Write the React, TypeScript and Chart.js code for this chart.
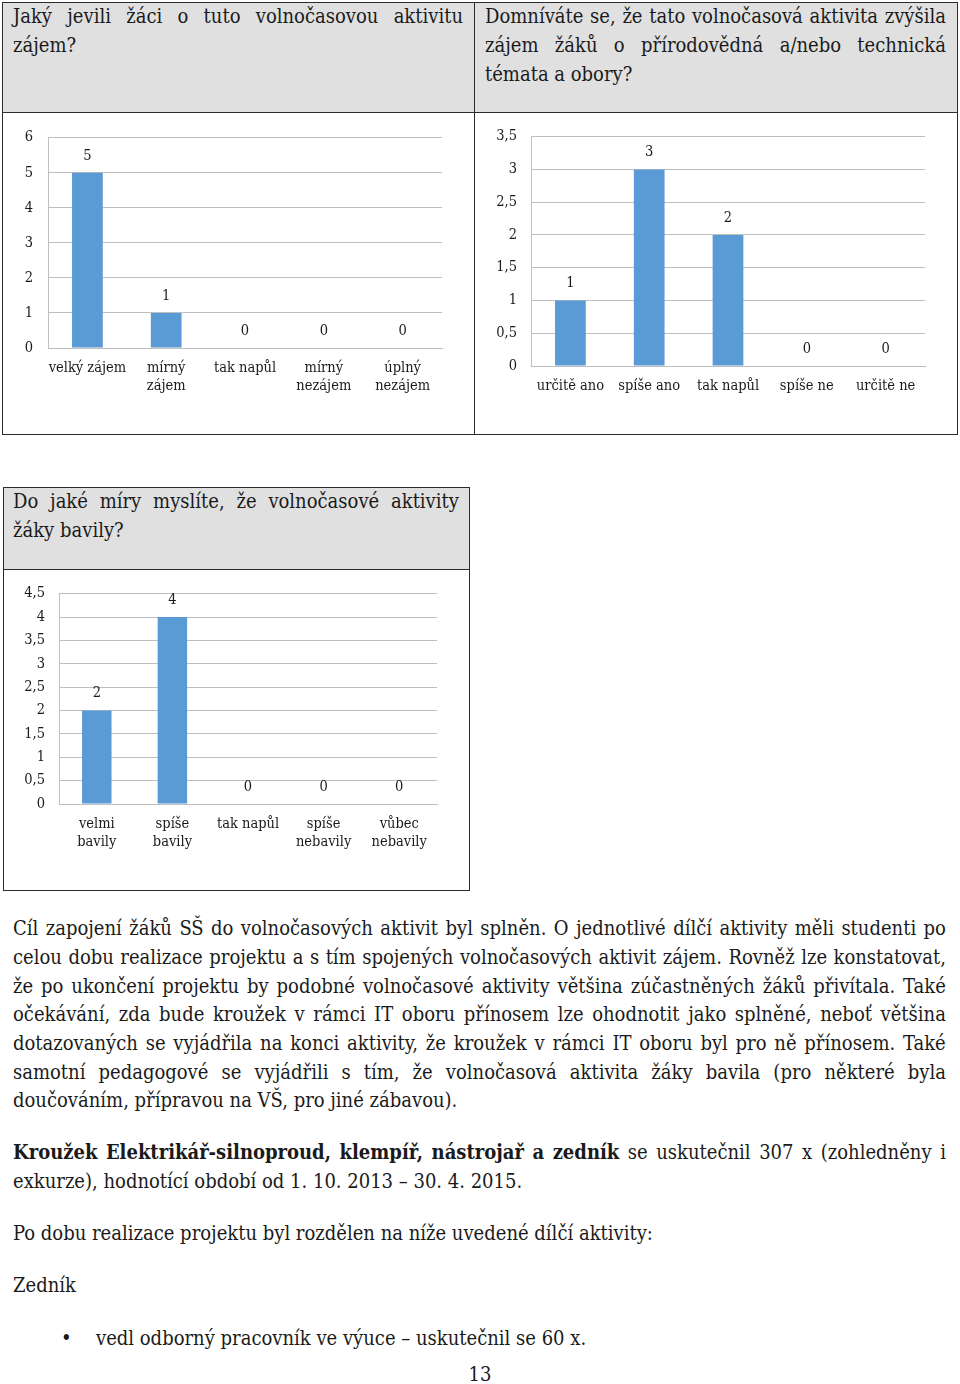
import React, { useEffect, useRef } from "react";
import { Chart, registerables } from "chart.js";

Chart.register(...registerables);

// ---------- data ----------
const interestCategories: (string | string[])[] = [["velký zájem"], ["mírný", "zájem"], ["tak napůl"], ["mírný", "nezájem"], ["úplný", "nezájem"]];
const interestValues = [5, 1, 0, 0, 0];
const interestTicks = ["0", "1", "2", "3", "4", "5", "6"];

const topicCategories: (string | string[])[] = ["určitě ano", "spíše ano", "tak napůl", "spíše ne", "určitě ne"];
const topicValues = [1, 3, 2, 0, 0];
const topicTicks = ["0", "0,5", "1", "1,5", "2", "2,5", "3", "3,5"];

const funCategories: (string | string[])[] = [["velmi", "bavily"], ["spíše", "bavily"], ["tak napůl"], ["spíše", "nebavily"], ["vůbec", "nebavily"]];
const funValues = [2, 4, 0, 0, 0];
const funTicks = ["0", "0,5", "1", "1,5", "2", "2,5", "3", "3,5", "4", "4,5"];

// ---------- style ----------
const FONT = '"DejaVu Serif Condensed", "DejaVu Serif", serif';
const TEXT = "#1a1a1a";
const BAR = "#5b9bd5";
const GRID = "#bfbfbf";
const CHART_FONT_SIZE = 14.5;

const valueLabels = {
  id: "valueLabels",
  afterDatasetsDraw(chart: any) {
    const ctx = chart.ctx;
    const meta = chart.getDatasetMeta(0);
    const data = chart.data.datasets[0].data;
    ctx.save();
    ctx.font = `${CHART_FONT_SIZE}px ${FONT}`;
    ctx.fillStyle = TEXT;
    ctx.textAlign = "center";
    ctx.textBaseline = "middle";
    meta.data.forEach((bar: any, i: number) => {
      ctx.fillText(String(data[i]), bar.x, bar.y - 17);
    });
    ctx.restore();
  },
};

type BarProps = {
  left: number; top: number; width: number; height: number;
  labels: (string | string[])[]; values: number[]; ticks: string[];
  max: number; step: number;
  padTop: number; padRight: number; padBottom: number;
  yWidth: number; xHeight: number; yPad: number; xPad: number;
};

function BarChart(p: BarProps) {
  const ref = useRef<HTMLCanvasElement | null>(null);
  useEffect(() => {
    if (!ref.current) return;
    const chart = new Chart(ref.current, {
      type: "bar",
      data: {
        labels: p.labels,
        datasets: [{ data: p.values, backgroundColor: BAR, barPercentage: 0.39, categoryPercentage: 1 }],
      },
      options: {
        animation: false,
        responsive: false,
        layout: { padding: { top: p.padTop, right: p.padRight, bottom: p.padBottom, left: 0 } },
        plugins: { legend: { display: false }, tooltip: { enabled: false } },
        scales: {
          x: {
            grid: { display: false, drawTicks: false },
            border: { display: true, color: GRID, width: 1 },
            ticks: { color: TEXT, font: { family: FONT, size: CHART_FONT_SIZE, lineHeight: 1.25 }, padding: p.xPad, maxRotation: 0, autoSkip: false },
            afterFit: (s: any) => { s.height = p.xHeight; },
          },
          y: {
            min: 0, max: p.max,
            grid: { color: GRID, lineWidth: 1, drawTicks: false },
            border: { display: true, color: GRID, width: 1 },
            ticks: {
              stepSize: p.step, color: TEXT, padding: p.yPad,
              font: { family: FONT, size: CHART_FONT_SIZE },
              callback: (_v: any, i: number) => p.ticks[i],
            },
            afterFit: (s: any) => { s.width = p.yWidth; },
          },
        },
      },
      plugins: [valueLabels],
    } as any);
    return () => chart.destroy();
  }, []);
  return (
    <canvas ref={ref} width={p.width} height={p.height}
      style={{ position: "absolute", left: p.left, top: p.top, width: p.width, height: p.height }} />
  );
}

// ---------- text helpers ----------
const BODY_SIZE = 20;
const LH = 29;

type Seg = [string, boolean];

function JLine({ x, y, w, segs }: { x: number; y: number; w: number; segs: Seg[] }) {
  const words: Seg[] = [];
  segs.forEach(([t, b]) => t.split(" ").filter(Boolean).forEach((wd) => words.push([wd, b])));
  return (
    <div style={{ position: "absolute", left: x, top: y - LH / 2, width: w, height: LH, lineHeight: LH + "px", display: "flex", justifyContent: "space-between", whiteSpace: "nowrap" }}>
      {words.map(([t, b], i) => <span key={i} style={{ fontWeight: b ? 700 : 400 }}>{t}</span>)}
    </div>
  );
}

function LLine({ x, y, children, center }: { x: number; y: number; children: any; center?: boolean }) {
  return (
    <div style={{ position: "absolute", left: center ? x - 100 : x, width: center ? 200 : undefined, textAlign: center ? "center" : "left", top: y - LH / 2, height: LH, lineHeight: LH + "px", whiteSpace: "nowrap" }}>
      {children}
    </div>
  );
}

const BORDER = "#2b2b2b";
const HEAD_BG = "#e0e0e0";

function Box({ x, y, w, h, bg }: { x: number; y: number; w: number; h: number; bg?: string }) {
  return <div style={{ position: "absolute", left: x, top: y, width: w, height: h, background: bg || "transparent", boxSizing: "border-box", border: `1.5px solid ${BORDER}` }} />;
}

export default function App() {
  return (
    <div style={{ position: "absolute", left: 0, top: 0, width: 960, height: 1384, overflow: "hidden", background: "#fff", fontFamily: FONT, fontSize: BODY_SIZE, color: TEXT }}>
      {/* top table */}
      <Box x={2} y={2} w={473} h={111} bg={HEAD_BG} />
      <Box x={474} y={2} w={484} h={111} bg={HEAD_BG} />
      <Box x={2} y={112} w={473} h={323} />
      <Box x={474} y={112} w={484} h={323} />

      <JLine x={13} y={16} w={450} segs={[["Jaký jevili žáci o tuto volnočasovou aktivitu", false]]} />
      <LLine x={13} y={45}>zájem?</LLine>
      <JLine x={485} y={16} w={461} segs={[["Domníváte se, že tato volnočasová aktivita zvýšila", false]]} />
      <JLine x={485} y={45} w={461} segs={[["zájem žáků o přírodovědná a/nebo technická", false]]} />
      <LLine x={485} y={74}>témata a obory?</LLine>

      <BarChart left={4} top={114} width={468} height={318} labels={interestCategories} values={interestValues} ticks={interestTicks}
        max={6} step={1} padTop={20} padRight={30} padBottom={14} yWidth={44} xHeight={70} yPad={15} xPad={11} />
      <BarChart left={476} top={114} width={480} height={318} labels={topicCategories} values={topicValues} ticks={topicTicks}
        max={3.5} step={0.5} padTop={20} padRight={31} padBottom={14} yWidth={55} xHeight={52} yPad={14} xPad={11} />

      {/* second table */}
      <Box x={3} y={487} w={467} h={83} bg={HEAD_BG} />
      <Box x={3} y={569} w={467} h={322} />
      <JLine x={13} y={501} w={446} segs={[["Do jaké míry myslíte, že volnočasové aktivity", false]]} />
      <LLine x={13} y={530}>žáky bavily?</LLine>

      <BarChart left={5} top={571} width={462} height={318} labels={funCategories} values={funValues} ticks={funTicks}
        max={4.5} step={0.5} padTop={20} padRight={30} padBottom={14} yWidth={54} xHeight={71} yPad={14} xPad={11} />

      {/* body text */}
      <JLine x={13} y={928} w={933} segs={[["Cíl zapojení žáků SŠ do volnočasových aktivit byl splněn. O jednotlivé dílčí aktivity měli studenti po", false]]} />
      <JLine x={13} y={957} w={933} segs={[["celou dobu realizace projektu a s tím spojených volnočasových aktivit zájem. Rovněž lze konstatovat,", false]]} />
      <JLine x={13} y={986} w={933} segs={[["že po ukončení projektu by podobné volnočasové aktivity většina zúčastněných žáků přivítala. Také", false]]} />
      <JLine x={13} y={1014} w={933} segs={[["očekávání, zda bude kroužek v rámci IT oboru přínosem lze ohodnotit jako splněné, neboť většina", false]]} />
      <JLine x={13} y={1043} w={933} segs={[["dotazovaných se vyjádřila na konci aktivity, že kroužek v rámci IT oboru byl pro ně přínosem. Také", false]]} />
      <JLine x={13} y={1072} w={933} segs={[["samotní pedagogové se vyjádřili s tím, že volnočasová aktivita žáky bavila (pro některé byla", false]]} />
      <LLine x={13} y={1100}>doučováním, přípravou na VŠ, pro jiné zábavou).</LLine>

      <JLine x={13} y={1152} w={933} segs={[["Kroužek Elektrikář-silnoproud, klempíř, nástrojař a zedník", true], ["se uskutečnil 307 x (zohledněny i", false]]} />
      <LLine x={13} y={1181}>exkurze), hodnotící období od 1. 10. 2013 – 30. 4. 2015.</LLine>

      <LLine x={13} y={1233}>Po dobu realizace projektu byl rozdělen na níže uvedené dílčí aktivity:</LLine>
      <LLine x={13} y={1285}>Zedník</LLine>
      <LLine x={61} y={1338}>•</LLine>
      <LLine x={96} y={1338}>vedl odborný pracovník ve výuce – uskutečnil se 60 x.</LLine>
      <LLine x={480} y={1374} center>13</LLine>
    </div>
  );
}
